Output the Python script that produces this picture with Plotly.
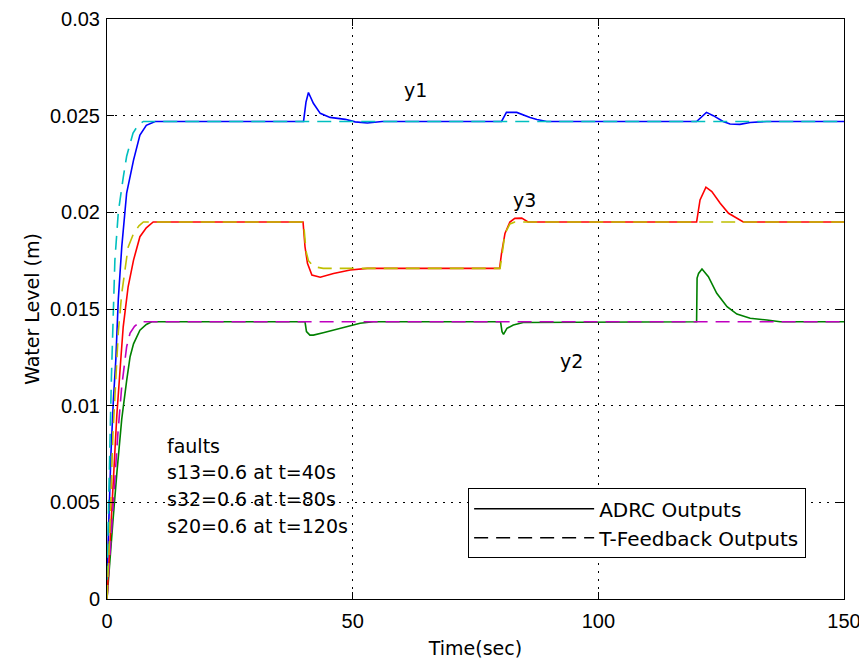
import plotly.graph_objects as go

# ---- data ----
t_y1_adrc = [0, 0.3, 0.8, 1.3, 1.8, 2.3, 3.0, 4.0, 5.4, 6.7, 8.0, 9.8,
             40.0, 40.5, 41.0, 42.0, 43.4, 45.4, 48.5, 50.5, 53.0, 56.0,
             80.3, 81.3, 83.4, 86.1, 87.5, 89.5,
             120.0, 122.0, 123.4, 125.4, 126.8, 128.8, 130.9, 134.3, 150]
v_y1_adrc = [0.001, 0.004, 0.0075, 0.0103, 0.0124, 0.0155, 0.0182, 0.0210, 0.0227, 0.0240, 0.0245, 0.0247,
             0.0247, 0.0257, 0.0262, 0.02564, 0.02512, 0.02491, 0.02481, 0.02468, 0.02462, 0.0247,
             0.0247, 0.02517, 0.02517, 0.02491, 0.0248, 0.0247,
             0.0247, 0.02517, 0.0250, 0.0247, 0.02457, 0.02455, 0.02465, 0.0247, 0.0247]

t_y1_tfb = [0, 0.4, 0.9, 1.6, 2.3, 3.3, 4.0, 5.3, 6.3, 7.4, 150]
v_y1_tfb = [0.001, 0.006, 0.0115, 0.0175, 0.0200, 0.0218, 0.0229, 0.0241, 0.0245, 0.0247, 0.0247]

t_y3_adrc = [0, 0.2, 0.7, 1.3, 2.0, 2.8, 3.3, 4.3, 5.4, 6.7, 8.0, 9.4,
             39.9, 40.3, 40.8, 41.7, 43.4, 46.1, 49.5, 53.0,
             79.9, 80.3, 81.0, 82.0, 83.0, 84.4, 85.7, 88.0,
             120.0, 120.7, 121.9, 123.1, 124.8, 126.5, 128.1, 129.5, 150]
v_y3_adrc = [0.0, 0.001, 0.0035, 0.0065, 0.0095, 0.01236, 0.01408, 0.01615, 0.01753, 0.01874, 0.0192, 0.0195,
             0.0195, 0.01822, 0.01736, 0.01676, 0.01664, 0.01684, 0.01702, 0.0171,
             0.0171, 0.01788, 0.01891, 0.0195, 0.01969, 0.0197, 0.0195, 0.0195,
             0.0195, 0.02064, 0.0213, 0.02107, 0.02047, 0.01995, 0.0197, 0.0195, 0.0195]

t_y3_tfb = [0, 0.5, 1.2, 2.3, 3.0, 4.3, 5.4, 6.5, 7.4,
            40.0, 40.5, 41.0, 42.0, 44.0,
            80.0, 80.4, 81.0, 82.0, 83.0, 150]
v_y3_tfb = [0.0, 0.003, 0.0085, 0.0138, 0.0158, 0.0182, 0.0189, 0.0193, 0.0195,
            0.0195, 0.0180, 0.0175, 0.0172, 0.0171,
            0.0171, 0.0178, 0.0189, 0.0194, 0.0195, 0.0195]

t_y2_adrc = [0, 0.5, 1.2, 2.0, 3.0, 4.0, 4.7, 5.4, 6.7, 8.0, 9.1,
             40.3, 40.6, 41.3, 42.0, 44.0, 46.7, 49.5, 51.5, 54.2,
             80.1, 80.4, 80.7, 81.4, 82.7, 84.7,
             120.0, 120.1, 120.4, 121.1, 122.4, 124.1, 126.2, 128.2, 130.9, 134.3, 137.0, 150]
v_y2_adrc = [0.0, 0.0015, 0.004, 0.0065, 0.0093, 0.0113, 0.01253, 0.0132, 0.0139, 0.0142, 0.01434,
             0.01434, 0.01383, 0.01365, 0.01365, 0.01377, 0.01395, 0.01412, 0.01426, 0.01434,
             0.01434, 0.01383, 0.01369, 0.0140, 0.01417, 0.0143,
             0.01434, 0.0166, 0.01684, 0.01707, 0.01667, 0.01581, 0.01512, 0.01474, 0.01452, 0.01443, 0.01434, 0.01434]

t_y2_tfb = [0, 0.5, 1.3, 2.2, 3.0, 4.0, 4.7, 5.6, 6.7, 150]
v_y2_tfb = [0.0, 0.002, 0.005, 0.0085, 0.011, 0.01305, 0.01376, 0.0141, 0.01434, 0.01434]

x_ticks = [0, 50, 100, 150]
y_ticks = [0, 0.005, 0.01, 0.015, 0.02, 0.025, 0.03]
y_tick_labels = ["0", "0.005", "0.01", "0.015", "0.02", "0.025", "0.03"]

legend_names = ["ADRC Outputs", "T-Feedback Outputs"]
curve_labels = ["y1", "y3", "y2"]
curve_label_t = [62.7, 84.9, 94.6]
curve_label_v = [0.02633, 0.02064, 0.01231]
fault_lines = ["faults", "s13=0.6 at t=40s", "s32=0.6 at t=80s", "s20=0.6 at t=120s"]
fault_t = 11.8
fault_v = [0.00791, 0.00657, 0.00517, 0.00377]

# ---- figure ----
TXT = "DejaVu Sans"
DASH = "14px,8px"
fig = go.Figure()

solid = [(t_y1_adrc, v_y1_adrc, "#0000ff"),
         (t_y2_adrc, v_y2_adrc, "#008000"),
         (t_y3_adrc, v_y3_adrc, "#ff0000")]
dashed = [(t_y1_tfb, v_y1_tfb, "#00bfbf"),
          (t_y2_tfb, v_y2_tfb, "#bf00bf"),
          (t_y3_tfb, v_y3_tfb, "#bfbf00")]
for t, v, c in solid:
    fig.add_trace(go.Scatter(x=t, y=v, mode="lines", line=dict(color=c, width=1.6),
                             showlegend=False, hoverinfo="skip"))
for t, v, c in dashed:
    fig.add_trace(go.Scatter(x=t, y=v, mode="lines", line=dict(color=c, width=1.6, dash=DASH),
                             showlegend=False, hoverinfo="skip"))

# legend entries (black samples as in the reference)
fig.add_trace(go.Scatter(x=[None], y=[None], mode="lines", name=legend_names[0],
                         line=dict(color="black", width=1.6)))
fig.add_trace(go.Scatter(x=[None], y=[None], mode="lines", name=legend_names[1],
                         line=dict(color="black", width=1.6, dash=DASH)))

for s, t, v in zip(curve_labels, curve_label_t, curve_label_v):
    fig.add_annotation(x=t, y=v, text=s, showarrow=False, xanchor="center", yanchor="middle",
                       font=dict(family=TXT, size=19, color="black"))
for s, v in zip(fault_lines, fault_v):
    fig.add_annotation(x=fault_t, y=v, text=s, showarrow=False, xanchor="left", yanchor="middle",
                       font=dict(family=TXT, size=19, color="black"))

axis_common = dict(showline=True, linecolor="black", linewidth=1, mirror="ticks",
                   ticks="inside", ticklen=7, tickcolor="black", tickwidth=1,
                   showgrid=True, gridcolor="black", gridwidth=1, griddash="2px,6px",
                   zeroline=False, automargin=False,
                   tickfont=dict(family="Liberation Sans, Arial", size=20, color="black"))

fig.update_xaxes(range=[0, 150], tickvals=x_ticks, ticklabelstandoff=4,
                 title=dict(text="Time(sec)", font=dict(family=TXT, size=19, color="black"), standoff=10),
                 **axis_common)
fig.update_yaxes(range=[0, 0.03], tickvals=y_ticks, ticktext=y_tick_labels, ticklabelstandoff=2,
                 title=dict(text="Water Level (m)", font=dict(family=TXT, size=19, color="black"), standoff=5),
                 **axis_common)

# the page body adds an 8px offset, compensated in the margins
fig.update_layout(
    width=867, height=667,
    margin=dict(l=99, r=31, t=11, b=76),
    paper_bgcolor="white", plot_bgcolor="white",
    showlegend=True,
    legend=dict(x=0.49, y=0.191, xanchor="left", yanchor="top",
                bgcolor="white", bordercolor="black", borderwidth=1,
                font=dict(family=TXT, size=20, color="black"),
                itemwidth=120, entrywidth=389, entrywidthmode="pixels",
                tracegroupgap=0),
)

fig.write_html("out.html")
